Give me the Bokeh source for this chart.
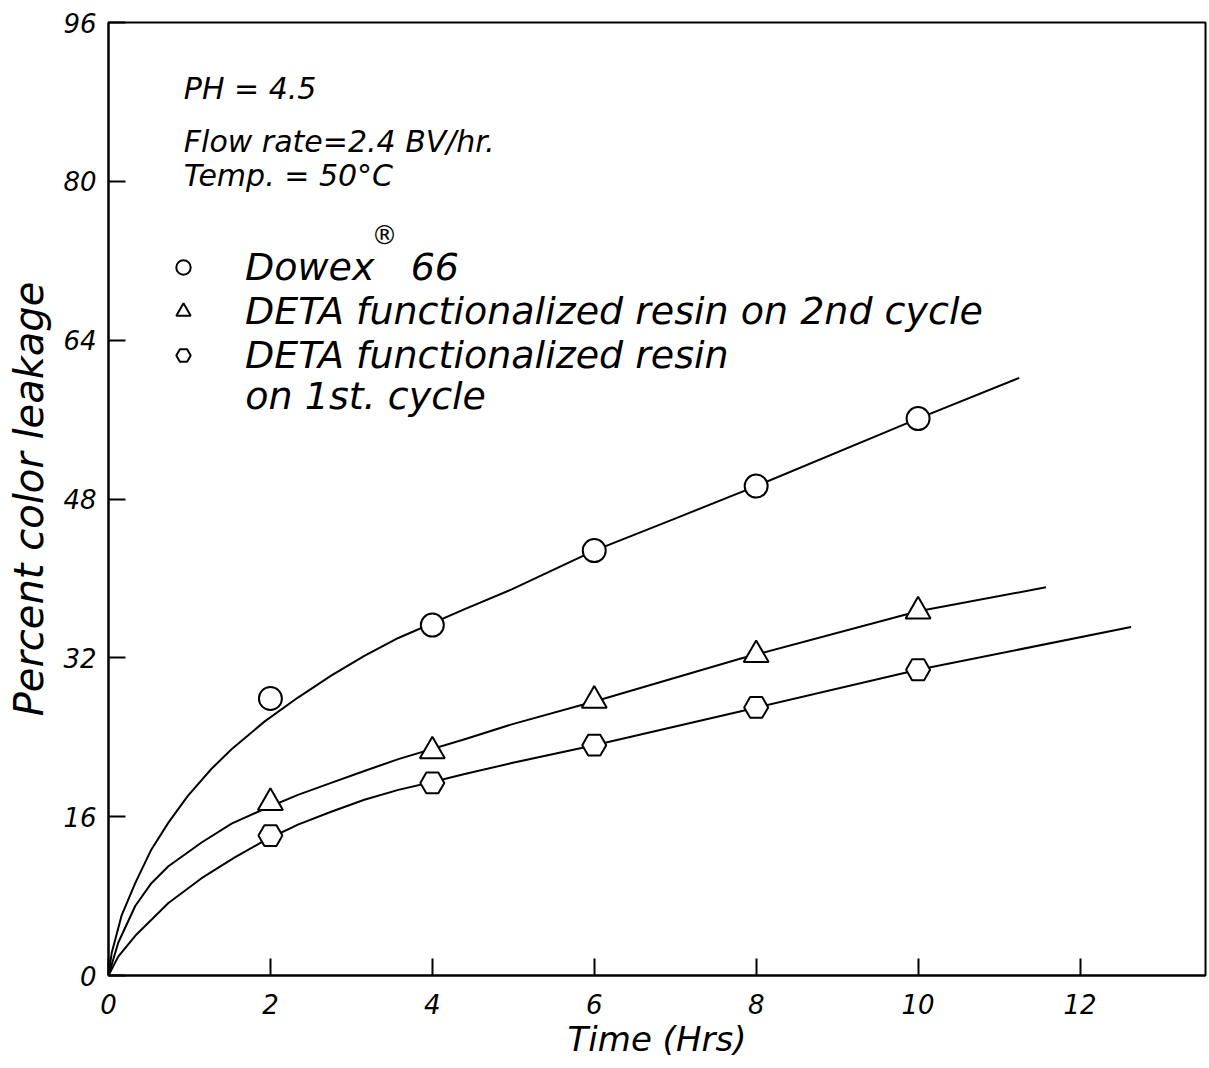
from bokeh.plotting import figure
from bokeh.models import Legend, LegendItem, Label, FixedTicker, Range1d
from bokeh.embed import file_html
from bokeh.resources import INLINE

# ---- data ----
times = [2, 4, 6, 8, 10]
dowex = [27.9, 35.3, 42.8, 49.3, 56.1]
deta_2nd = [17.4, 22.6, 27.7, 32.3, 36.7]
deta_1st = [14.1, 19.4, 23.2, 27.0, 30.8]

# hand-drawn fitted curves
dowex_curve_x = [0, 0.04, 0.16, 0.33, 0.53, 0.74, 0.98, 1.27, 1.52, 1.93, 2.34, 2.75,
                 3.16, 3.58, 4.40, 4.98, 6, 6.99, 8, 10, 11.25]
dowex_curve_y = [0, 2.3, 6.0, 9.3, 12.7, 15.4, 18.1, 20.8, 22.8, 25.6, 28.0, 30.2,
                 32.2, 34.0, 36.9, 38.9, 42.8, 46.0, 49.3, 56.1, 60.2]
deta2_curve_x = [0, 0.12, 0.33, 0.53, 0.74, 1.15, 1.52, 1.93, 2.34, 2.75, 3.16, 3.58,
                 4.40, 4.98, 6, 7.80, 10, 11.58]
deta2_curve_y = [0, 3.3, 7.0, 9.3, 11.0, 13.4, 15.3, 16.8, 18.2, 19.4, 20.6, 21.8,
                 23.8, 25.3, 27.6, 31.9, 36.7, 39.1]
deta1_curve_x = [0, 0.12, 0.33, 0.74, 1.15, 1.56, 1.93, 2.34, 2.75, 3.16, 3.58, 4.0,
                 4.40, 4.98, 6, 7.80, 10, 12.63]
deta1_curve_y = [0, 1.9, 4.0, 7.3, 9.8, 11.9, 13.6, 15.2, 16.5, 17.7, 18.7, 19.5,
                 20.3, 21.4, 23.2, 26.6, 30.8, 35.1]

x_ticks = [0, 2, 4, 6, 8, 10, 12]
y_ticks = [0, 16, 32, 48, 64, 80, 96]

series_labels = ["Dowex   66", "DETA functionalized resin on 2nd cycle",
                 "DETA functionalized resin"]
label_cont = "on 1st. cycle"
notes = ["PH = 4.5", "Flow rate=2.4 BV/hr.", "Temp. = 50\u00b0C"]

FONT = "DejaVu Sans"

p = figure(width=1209, height=1068, x_range=Range1d(0, 13.55), y_range=Range1d(0, 96),
           output_backend="svg", toolbar_location=None,
           min_border_left=108, min_border_right=4, min_border_top=22, min_border_bottom=93)

p.grid.visible = False
p.outline_line_color = "black"
p.outline_line_width = 2
p.background_fill_color = "white"
p.border_fill_color = "white"

for ax in (p.xaxis[0], p.yaxis[0]):
    ax.axis_line_width = 2
    ax.axis_line_color = "black"
    ax.major_tick_in = 17
    ax.major_tick_out = 0
    ax.major_tick_line_width = 2
    ax.minor_tick_line_color = None
    ax.major_label_text_font = FONT
    ax.major_label_text_font_style = "italic"
    ax.major_label_text_font_size = "26px"
    ax.major_label_text_color = "black"
    ax.axis_label_text_font = FONT
    ax.axis_label_text_font_style = "italic"
    ax.axis_label_text_color = "black"

p.xaxis.ticker = FixedTicker(ticks=x_ticks)
p.yaxis.ticker = FixedTicker(ticks=y_ticks)
p.xaxis.axis_label = "Time (Hrs)"
p.yaxis.axis_label = "Percent color leakage"
p.xaxis.axis_label_text_font_size = "34px"
p.yaxis.axis_label_text_font_size = "40px"
p.xaxis.major_label_standoff = 18
p.yaxis.major_label_standoff = 12
p.xaxis.axis_label_standoff = 2
p.yaxis.axis_label_standoff = 8

# curves
p.line(dowex_curve_x, dowex_curve_y, line_color="black", line_width=2, line_join="round")
p.line(deta2_curve_x, deta2_curve_y, line_color="black", line_width=2, line_join="round")
p.line(deta1_curve_x, deta1_curve_y, line_color="black", line_width=2, line_join="round")

# markers
r1 = p.scatter(times, dowex, marker="circle", size=23, fill_color="white",
               line_color="black", line_width=2)
r2 = p.scatter(times, deta_2nd, marker="triangle", size=25, fill_color="white",
               line_color="black", line_width=2)
r3 = p.scatter(times, deta_1st, marker="hex", size=24, fill_color="white",
               line_color="black", line_width=2)

legend = Legend(items=[LegendItem(label=series_labels[0], renderers=[r1]),
                       LegendItem(label=series_labels[1], renderers=[r2]),
                       LegendItem(label=series_labels[2], renderers=[r3])],
                location=(57, 598), border_line_alpha=0, background_fill_alpha=0,
                padding=0, margin=0, spacing=0, glyph_width=36, glyph_height=42,
                label_height=42, label_standoff=44,
                label_text_font=FONT, label_text_font_style="italic",
                label_text_font_size="38px", label_text_color="black",
                label_text_line_height=1.0)
p.add_layout(legend, "center")

p.add_layout(Label(x=1.69, y=58.4, text=label_cont, text_font=FONT,
                   text_font_style="italic", text_font_size="38px", text_color="black",
                   text_baseline="alphabetic"))

for txt, yv in zip(notes, [89.4, 84.0, 80.6]):
    p.add_layout(Label(x=0.93, y=yv, text=txt, text_font=FONT, text_font_style="italic",
                       text_font_size="30px", text_color="black",
                       text_baseline="alphabetic"))

p.add_layout(Label(x=3.41, y=74.6, text="\u00ae", text_font=FONT,
                   text_font_size="26px", text_color="black",
                   text_align="center", text_baseline="middle"))

open("out.html", "w").write(file_html(p, INLINE))
